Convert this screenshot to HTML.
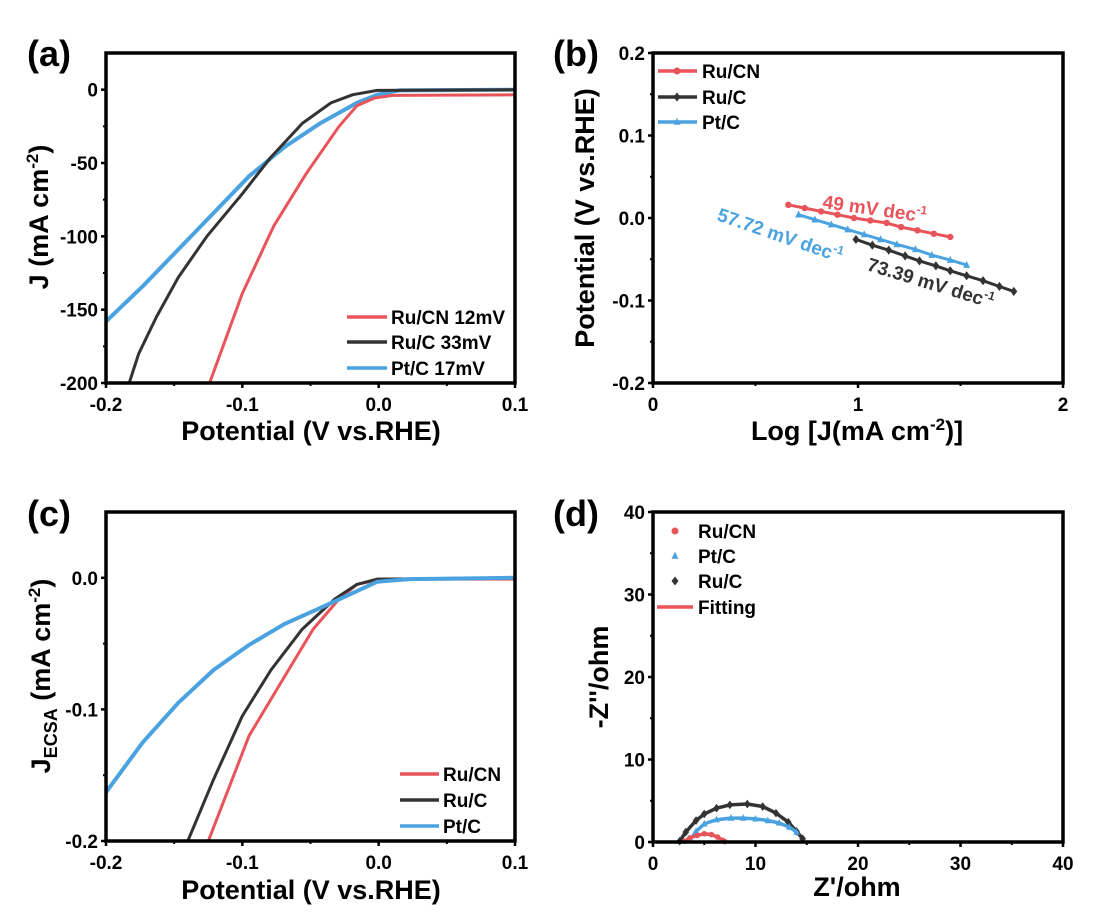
<!DOCTYPE html>
<html><head><meta charset="utf-8"><style>
html,body{margin:0;padding:0;background:#fff;}
svg{display:block;font-family:"Liberation Sans",Arial,sans-serif;font-weight:bold;}
</style></head><body>
<svg id="fig" width="1118" height="918" viewBox="0 0 1118 918" xmlns="http://www.w3.org/2000/svg"></svg>
<script>
// ---------- Data ----------
// (a) LSV
const aRuCN_x=[-0.124,-0.100,-0.077,-0.053,-0.029,-0.016,-0.003,0.010,0.1];
const aRuCN_y=[-200,-139,-93,-57,-25,-11,-5.7,-3.9,-3.5];
const aRuC_x=[-0.183,-0.176,-0.163,-0.147,-0.126,-0.100,-0.079,-0.056,-0.035,-0.019,-0.001,0.1];
const aRuC_y=[-200,-180,-155,-128,-100,-71,-46,-23,-9,-3.4,-0.5,0];
const aPtC_x=[-0.2,-0.173,-0.147,-0.121,-0.095,-0.069,-0.043,-0.016,-0.001,0.015,0.1];
const aPtC_y=[-158,-134,-109,-84,-59,-39,-23,-9,-3.4,-0.5,0];
const aXTicks=[-0.2,-0.1,0.0,0.1];
const aXTickLabels=["-0.2","-0.1","0.0","0.1"];
const aYTicks=[0,-50,-100,-150,-200];
const aYTickLabels=["0","-50","-100","-150","-200"];
// (b) Tafel
const bRuCN_x=[0.66,0.74,0.82,0.90,0.98,1.06,1.14,1.21,1.29,1.37,1.45];
const bRuCN_y=[0.016,0.012,0.008,0.004,0.000,-0.003,-0.006,-0.011,-0.015,-0.019,-0.023];
const bPtC_x=[0.71,0.79,0.87,0.95,1.03,1.11,1.19,1.28,1.36,1.45,1.53];
const bPtC_y=[0.004,-0.002,-0.008,-0.014,-0.020,-0.026,-0.032,-0.038,-0.045,-0.051,-0.057];
const bRuC_x=[0.99,1.07,1.15,1.23,1.30,1.38,1.45,1.53,1.61,1.69,1.76];
const bRuC_y=[-0.026,-0.033,-0.039,-0.046,-0.052,-0.058,-0.064,-0.070,-0.076,-0.083,-0.089];
const bXTicks=[0,1,2];
const bXTickLabels=["0","1","2"];
const bYTicks=[0.2,0.1,0.0,-0.1,-0.2];
const bYTickLabels=["0.2","0.1","0.0","-0.1","-0.2"];
// (c) ECSA-normalised
const cRuCN_x=[-0.125,-0.095,-0.069,-0.048,-0.029,-0.016,0.002,0.1];
const cRuCN_y=[-0.2,-0.120,-0.075,-0.039,-0.016,-0.005,-0.001,-0.001];
const cRuC_x=[-0.140,-0.121,-0.100,-0.079,-0.056,-0.032,-0.016,-0.001,0.1];
const cRuC_y=[-0.2,-0.153,-0.105,-0.070,-0.039,-0.016,-0.005,-0.001,0];
const cPtC_x=[-0.2,-0.173,-0.147,-0.121,-0.095,-0.069,-0.043,-0.022,-0.001,0.023,0.1];
const cPtC_y=[-0.163,-0.125,-0.095,-0.070,-0.051,-0.035,-0.023,-0.013,-0.003,-0.001,0];
const cYTicks=[0.0,-0.1,-0.2];
const cYTickLabels=["0.0","-0.1","-0.2"];
// (d) Nyquist
const dRuCN_x=[3.1,3.6,4.3,5.0,5.7,6.3,6.8,7.0];
const dRuCN_y=[0.1,0.5,0.8,1.0,0.9,0.6,0.2,0.05];
const dPtC_x=[3.6,4.2,5.0,6.2,7.6,8.8,10.0,11.2,12.3,13.3,14.0];
const dPtC_y=[0.2,1.3,2.2,2.7,2.9,2.9,2.8,2.6,2.3,1.8,1.2];
const dRuC_x=[2.6,3.2,4.2,5.0,6.2,7.5,9.2,10.7,12.0,13.2,14.0,14.6];
const dRuC_y=[0.1,1.2,2.6,3.4,4.1,4.5,4.6,4.3,3.5,2.4,1.3,0.4];
const dTicks=[0,10,20,30,40];
const dTickLabels=["0","10","20","30","40"];

const RED="#e8545a",BLK="#333333",BLU="#4aa3e0";
const TF=19, TITLE=27, LEG=19;
const NS="http://www.w3.org/2000/svg";
const svg=document.getElementById('fig');
function el(tag,attrs,parent,text){const e=document.createElementNS(NS,tag);for(const k in attrs)e.setAttribute(k,attrs[k]);if(text!==undefined)e.textContent=text;(parent||svg).appendChild(e);return e;}
function scale(d0,d1,r0,r1){return v=>r0+(v-d0)/(d1-d0)*(r1-r0);}

function axes(g,P,sx,sy,xt,xl,yt,yl,xminor,yminor){
  for(let i=0;i<xt.length;i++){const x=sx(xt[i]);
    const t=el('line',{x1:x,x2:x,y1:P.b,y2:P.b+5,stroke:'#000','stroke-width':2.5},g);
    
    const l=el('text',{x:x,y:P.b+28,'text-anchor':'middle','font-size':TF},g,xl[i]);
    }
  for(const v of xminor){const x=sx(v);const t=el('line',{x1:x,x2:x,y1:P.b,y2:P.b+3,stroke:'#000','stroke-width':2},g);
    }
  for(let i=0;i<yt.length;i++){const y=sy(yt[i]);
    const t=el('line',{x1:P.l-5,x2:P.l,y1:y,y2:y,stroke:'#000','stroke-width':2.5},g);
    
    const l=el('text',{x:P.l-8,y:y+7,'text-anchor':'end','font-size':TF},g,yl[i]);
    }
  for(const v of yminor){const y=sy(v);const t=el('line',{x1:P.l-3,x2:P.l,y1:y,y2:y,stroke:'#000','stroke-width':2},g);
    }
}
function frame(g,P){const r=el('rect',{x:P.l,y:P.t,width:P.r-P.l,height:P.b-P.t,fill:'none',stroke:'#000','stroke-width':3.5},g);
  }
function line(g,xs,ys,sx,sy,color,name,w){const pts=xs.map((x,i)=>sx(x).toFixed(1)+','+sy(ys[i]).toFixed(1)).join(' ');
  const p=el('polyline',{points:pts,fill:'none',stroke:color,'stroke-width':w||3.5,'stroke-linejoin':'round','stroke-linecap':'round'},g);
  return p;}
function marker(g,type,x,y,color,s){let m;
  if(type==='circle')m=el('circle',{cx:x,cy:y,r:s,fill:color},g);
  else if(type==='diamond')m=el('polygon',{points:`${x},${y-s*1.3} ${x+s},${y} ${x},${y+s*1.3} ${x-s},${y}`,fill:color},g);
  else m=el('polygon',{points:`${x},${y-s*1.2} ${x+s},${y+s*0.8} ${x-s},${y+s*0.8}`,fill:color},g);
  return m;}
function label(txt,x,y){const t=el('text',{x:x,y:y,'font-size':36},svg,txt);}
function clip(id,P){const d=el('defs',{});const c=el('clipPath',{id:id},d);el('rect',{x:P.l,y:P.t,width:P.r-P.l,height:P.b-P.t},c);}

// ---------- Panel (a) ----------
(function(){
  const P={l:106,r:515,t:53,b:383};clip('ca',P);
  const g=el('g',{});
  const sx=scale(-0.2,0.1,P.l,P.r),sy=scale(-200,25,P.b,P.t);
  const gl=el('g',{'clip-path':'url(#ca)'},g);
  line(gl,aPtC_x,aPtC_y,sx,sy,BLU,'ptc-lsv-line',4);
  line(gl,aRuC_x,aRuC_y,sx,sy,BLK,'ruc-lsv-line',3);
  line(gl,aRuCN_x,aRuCN_y,sx,sy,RED,'rucn-lsv-line',3);
  frame(g,P);
  axes(g,P,sx,sy,aXTicks,aXTickLabels,aYTicks,aYTickLabels,[-0.15,-0.05,0.05],[-25,-75,-125,-175]);
  const xt=el('text',{x:311,y:440,'text-anchor':'middle','font-size':TITLE},g,'Potential (V vs.RHE)');
  const yt=el('text',{transform:'translate(48,217) rotate(-90)','text-anchor':'middle','font-size':TITLE},g);
  yt.innerHTML='J (mA cm<tspan dy="-10" font-size="17">-2</tspan><tspan dy="10">)</tspan>';
  const L=[["Ru/CN 12mV",RED,317],["Ru/C 33mV",BLK,342],["Pt/C 17mV",BLU,368]];
  for(const [t,c,y] of L){const le=el('g',{},g);
    el('line',{x1:347,x2:387,y1:y,y2:y,stroke:c,'stroke-width':3.5},le);el('text',{x:391,y:y+7,'font-size':LEG},le,t);}
})();

// ---------- Panel (b) ----------
(function(){
  const P={l:653,r:1063,t:53,b:383};
  const g=el('g',{});
  const sx=scale(0,2,P.l,P.r),sy=scale(-0.2,0.2,P.b,P.t);
  const S=[[bRuCN_x,bRuCN_y,RED,'circle','rucn'],[bPtC_x,bPtC_y,BLU,'triangle','ptc'],[bRuC_x,bRuC_y,BLK,'diamond','ruc']];
  for(const [xs,ys,c,m,n] of S){line(g,xs,ys,sx,sy,c,n+'-tafel-line',3);
    for(let i=0;i<xs.length;i++){const mk=marker(g,m,sx(xs[i]),sy(ys[i]),c,m==='circle'?3.2:3.5);}}
  frame(g,P);
  axes(g,P,sx,sy,bXTicks,bXTickLabels,bYTicks,bYTickLabels,[0.5,1.5],[0.15,0.05,-0.05,-0.15]);
  const xt=el('text',{x:857,y:440,'text-anchor':'middle','font-size':TITLE},g);
  xt.innerHTML='Log [J(mA cm<tspan dy="-10" font-size="17">-2</tspan><tspan dy="10">)]</tspan>';
  const yt=el('text',{transform:'translate(594,218) rotate(-90)','text-anchor':'middle','font-size':TITLE},g,'Potential (V vs.RHE)');
  const L=[["Ru/CN",RED,71,'circle'],["Ru/C",BLK,97,'diamond'],["Pt/C",BLU,122,'triangle']];
  for(const [t,c,y,m] of L){const le=el('g',{},g);
    el('line',{x1:658,x2:697,y1:y,y2:y,stroke:c,'stroke-width':3.5},le);marker(le,m,677,y,c,3.5);el('text',{x:702,y:y+7,'font-size':LEG},le,t);}
  const A=[['49 mV dec',RED,822,208,8],['57.72 mV dec',BLU,716,220,19],['73.39 mV dec',BLK,866,270,17]];
  for(const [t,c,x,y,r] of A){const a=el('text',{transform:`translate(${x},${y}) rotate(${r})`,fill:c,'font-size':19},g);
    
    a.innerHTML=t+'<tspan dy="-8" font-size="12">-1</tspan>';}
})();

// ---------- Panel (c) ----------
(function(){
  const P={l:106,r:515,t:512,b:841};clip('cc',P);
  const g=el('g',{});
  const sx=scale(-0.2,0.1,P.l,P.r),sy=scale(-0.2,0.05,P.b,P.t);
  const gl=el('g',{'clip-path':'url(#cc)'},g);
  line(gl,cRuCN_x,cRuCN_y,sx,sy,RED,'rucn-ecsa-line',3);
  line(gl,cRuC_x,cRuC_y,sx,sy,BLK,'ruc-ecsa-line',3);
  line(gl,cPtC_x,cPtC_y,sx,sy,BLU,'ptc-ecsa-line',4);
  frame(g,P);
  axes(g,P,sx,sy,aXTicks,aXTickLabels,cYTicks,cYTickLabels,[-0.15,-0.05,0.05],[-0.05,-0.15]);
  const xt=el('text',{x:311,y:899,'text-anchor':'middle','font-size':TITLE},g,'Potential (V vs.RHE)');
  const yt=el('text',{transform:'translate(50,676) rotate(-90)','text-anchor':'middle','font-size':TITLE},g);
  yt.innerHTML='J<tspan dy="7" font-size="18">ECSA</tspan><tspan dy="-7"> (mA cm</tspan><tspan dy="-10" font-size="17">-2</tspan><tspan dy="10">)</tspan>';
  const L=[["Ru/CN",RED,774],["Ru/C",BLK,800],["Pt/C",BLU,826]];
  for(const [t,c,y] of L){const le=el('g',{},g);
    el('line',{x1:400,x2:439,y1:y,y2:y,stroke:c,'stroke-width':3.5},le);el('text',{x:443,y:y+7,'font-size':LEG},le,t);}
})();

// ---------- Panel (d) ----------
(function(){
  const P={l:653,r:1063,t:512,b:842};
  const g=el('g',{});
  const sx=scale(0,40,P.l,P.r),sy=scale(0,40,P.b,P.t);
  const S=[[dRuC_x,dRuC_y,BLK,'diamond','ruc'],[dPtC_x,dPtC_y,BLU,'triangle','ptc'],[dRuCN_x,dRuCN_y,RED,'circle','rucn']];
  for(const [xs,ys,c,m,n] of S){line(g,xs,ys,sx,sy,c,n+'-fitting-line',3.5);
    for(let i=0;i<xs.length;i++){const mk=marker(g,m,sx(xs[i]),sy(ys[i]),c,m==='circle'?2.8:3.3);}}
  frame(g,P);
  axes(g,P,sx,sy,dTicks,dTickLabels,dTicks,dTickLabels,[5,15,25,35],[5,15,25,35]);
  const xt=el('text',{x:857,y:896,'text-anchor':'middle','font-size':TITLE},g,"Z'/ohm");
  const yt=el('text',{transform:'translate(608,677) rotate(-90)','text-anchor':'middle','font-size':TITLE},g,"-Z''/ohm");
  const L=[["Ru/CN",RED,531,'circle'],["Pt/C",BLU,556,'triangle'],["Ru/C",BLK,581,'diamond']];
  for(const [t,c,y,m] of L){const le=el('g',{},g);
    marker(le,m,675,y,c,3.5);el('text',{x:698,y:y+7,'font-size':LEG},le,t);}
  const fe=el('g',{},g);
  el('line',{x1:657,x2:693,y1:607,y2:607,stroke:RED,'stroke-width':3.5},fe);el('text',{x:698,y:614,'font-size':LEG},fe,'Fitting');
})();

label('(a)',27,66);label('(b)',553,66);label('(c)',27,526);label('(d)',553,526);
</script>
</body></html>
